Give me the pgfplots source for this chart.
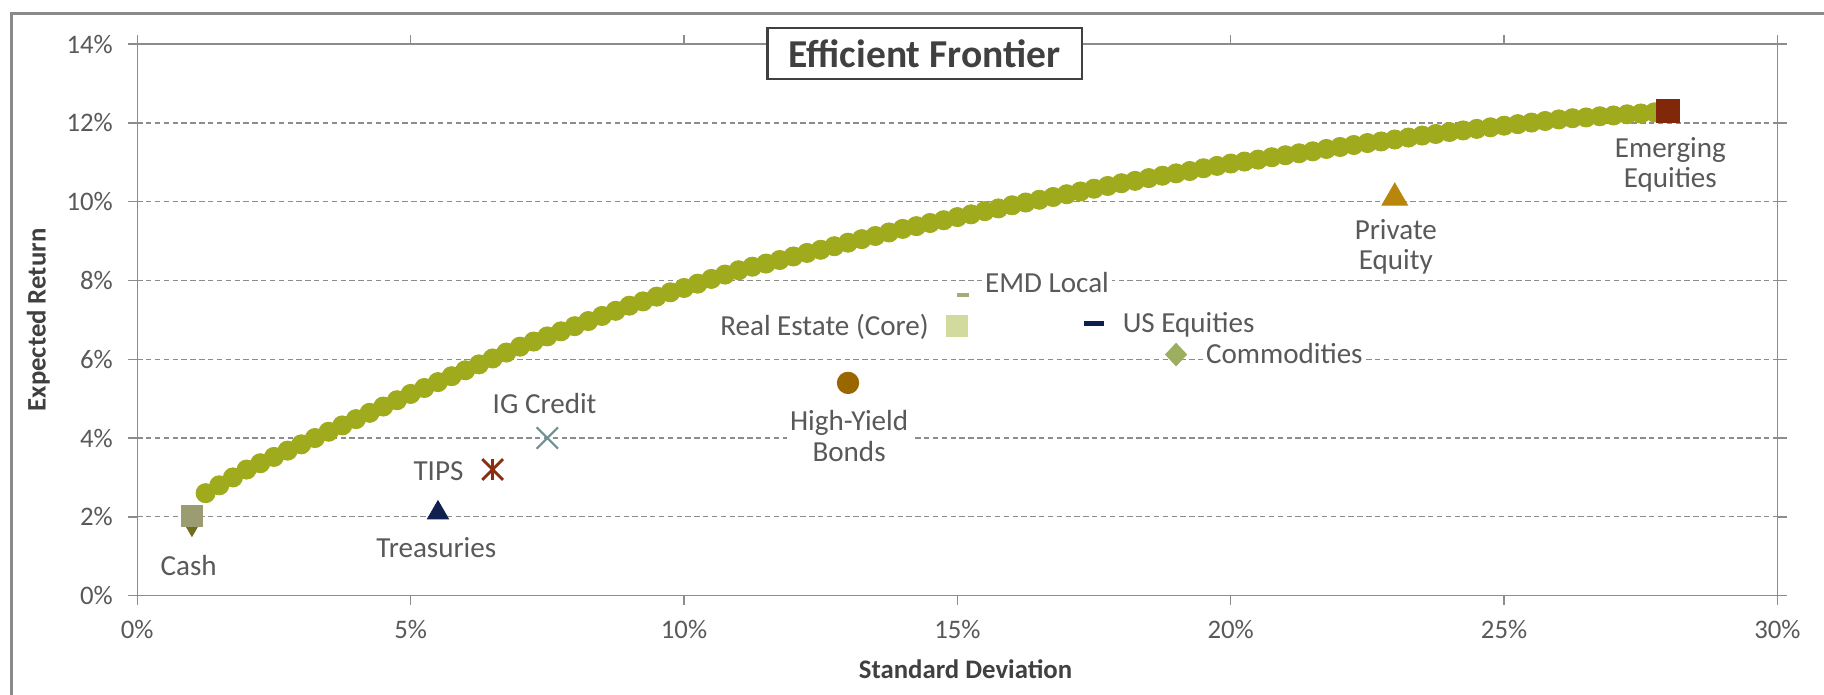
\documentclass[border=0pt]{standalone}
\usepackage{fontspec}
\setmainfont{Carlito}
\usepackage{pgfplots}
\pgfplotsset{compat=1.18}

\definecolor{framegray}{HTML}{8A8A8A}
\definecolor{axisgray}{HTML}{8C8C8C}
\definecolor{gridgray}{HTML}{8C8C8C}
\definecolor{labelgray}{HTML}{595959}
\definecolor{titlegray}{HTML}{404040}
\definecolor{frontier}{HTML}{9FAB1D}
\definecolor{cashsq}{HTML}{9C9C72}
\definecolor{cashtri}{HTML}{6E6E1E}
\definecolor{treas}{HTML}{10204F}
\definecolor{tips}{HTML}{8B2D0F}
\definecolor{igcredit}{HTML}{6F9090}
\definecolor{hyb}{HTML}{996600}
\definecolor{emd}{HTML}{A4AC7A}
\definecolor{realest}{HTML}{D2DA9E}
\definecolor{useq}{HTML}{0D1F4F}
\definecolor{commod}{HTML}{9DAE5E}
\definecolor{pe}{HTML}{B8860B}
\definecolor{emeq}{HTML}{82280A}

\newcommand{\lbl}{\fontsize{12.5}{13}\selectfont}

\begin{document}
\begin{tikzpicture}
\useasboundingbox (-59pt,-42.5pt) rectangle (725pt,256pt);
% outer chart frame
\draw[line width=1.3pt, draw=framegray] (-54pt,-80pt) -- (-54pt,250pt) -- (780pt,250pt);
\begin{axis}[
  at={(0pt,0pt)}, anchor=south west,
  scale only axis, width=705pt, height=237pt,
  xmin=0, xmax=30, ymin=0, ymax=14,
  xtick={0,5,...,30}, ytick={0,2,...,14},
  xticklabels={0\%,5\%,10\%,15\%,20\%,25\%,30\%},
  yticklabels={0\%,2\%,4\%,6\%,8\%,10\%,12\%,14\%},
  tick align=outside, major tick length=4pt,
  tick style={axisgray, line width=0.6pt},
  axis line style={axisgray, line width=0.6pt},
  ymajorgrids,
  grid style={gridgray, line width=0.5pt, dash pattern=on 2.3pt off 1.5pt},
  ticklabel style={font=\fontsize{11.5}{13}\selectfont, text=labelgray},
  xticklabel style={yshift=-3pt},
  yticklabel style={xshift=-3pt},
  clip=false,
]
% efficient frontier
\addplot[only marks, mark=*, mark size=4.1pt, mark options={fill=frontier, draw=frontier}] coordinates {
(1.00,2.00) (1.25,2.60) (1.50,2.80) (1.75,3.00) (2.00,3.20)
(2.25,3.36) (2.50,3.52) (2.75,3.68) (3.00,3.84) (3.25,4.00)
(3.50,4.16) (3.75,4.32) (4.00,4.48) (4.25,4.64) (4.50,4.80)
(4.75,4.96) (5.00,5.12) (5.25,5.27) (5.50,5.42) (5.75,5.57)
(6.00,5.72) (6.25,5.87) (6.50,6.02) (6.75,6.17) (7.00,6.32)
(7.25,6.45) (7.50,6.58) (7.75,6.71) (8.00,6.84) (8.25,6.97)
(8.50,7.10) (8.75,7.23) (9.00,7.36) (9.25,7.47) (9.50,7.59)
(9.75,7.70) (10.00,7.81) (10.25,7.92) (10.50,8.04) (10.75,8.15)
(11.00,8.26) (11.25,8.35) (11.50,8.43) (11.75,8.52) (12.00,8.61)
(12.25,8.70) (12.50,8.78) (12.75,8.87) (13.00,8.96) (13.25,9.05)
(13.50,9.13) (13.75,9.22) (14.00,9.31) (14.25,9.38) (14.50,9.46)
(14.75,9.53) (15.00,9.61) (15.25,9.68) (15.50,9.76) (15.75,9.83)
(16.00,9.91) (16.25,9.98) (16.50,10.05) (16.75,10.12) (17.00,10.19)
(17.25,10.26) (17.50,10.33) (17.75,10.40) (18.00,10.47) (18.25,10.53)
(18.50,10.60) (18.75,10.66) (19.00,10.72) (19.25,10.78) (19.50,10.85)
(19.75,10.91) (20.00,10.97) (20.25,11.02) (20.50,11.07) (20.75,11.13)
(21.00,11.18) (21.25,11.23) (21.50,11.28) (21.75,11.34) (22.00,11.39)
(22.25,11.44) (22.50,11.49) (22.75,11.53) (23.00,11.58) (23.25,11.63)
(23.50,11.68) (23.75,11.72) (24.00,11.77) (24.25,11.81) (24.50,11.85)
(24.75,11.89) (25.00,11.93) (25.25,11.97) (25.50,12.01) (25.75,12.05)
(26.00,12.09) (26.25,12.12) (26.50,12.14) (26.75,12.17) (27.00,12.19)
(27.25,12.22) (27.50,12.24) (27.75,12.27) (28.00,12.29)
};
% asset classes
\addplot[only marks, mark=triangle*, mark size=5pt, mark options={rotate=180, fill=cashtri, draw=cashtri}] coordinates {(1.0,1.8)};
\addplot[only marks, mark=square*, mark size=4.5pt, mark options={fill=cashsq, draw=cashsq}] coordinates {(1.0,2.03)};
\addplot[only marks, mark=triangle*, mark size=5.2pt, mark options={fill=treas, draw=treas}] coordinates {(5.5,2.1)};
\addplot[only marks, mark=x, mark size=6.3pt, mark options={draw=tips, line width=1.2pt}] coordinates {(6.5,3.2)};
\addplot[only marks, mark=|, mark size=4.4pt, mark options={draw=tips, line width=1.2pt}] coordinates {(6.5,3.2)};
\addplot[only marks, mark=x, mark size=6.5pt, mark options={draw=igcredit, line width=0.9pt}] coordinates {(7.5,4.0)};
\addplot[only marks, mark=*, mark size=4.6pt, mark options={fill=hyb, draw=hyb}] coordinates {(13.0,5.4)};
\addplot[only marks, mark=-, mark size=2.6pt, mark options={draw=emd, line width=1.7pt}] coordinates {(15.1,7.62)};
\addplot[only marks, mark=square*, mark size=4.5pt, mark options={fill=realest, draw=realest}] coordinates {(15.0,6.85)};
\addplot[only marks, mark=-, mark size=4.2pt, mark options={draw=useq, line width=2.1pt}] coordinates {(17.5,6.9)};
\addplot[only marks, mark=diamond*, mark size=4.8pt, mark options={xscale=1.25, fill=commod, draw=commod}] coordinates {(19.0,6.12)};
\addplot[only marks, mark=triangle*, mark size=6.3pt, mark options={fill=pe, draw=pe}] coordinates {(23.0,10.1)};
\addplot[only marks, mark=square*, mark size=5pt, mark options={fill=emeq, draw=emeq}] coordinates {(28.0,12.3)};

% data labels
\begin{scope}[every node/.style={font=\lbl, text=labelgray, fill=white, inner sep=1.5pt, align=center}]
\node at (axis cs:0.94,0.77) {Cash};
\node at (axis cs:5.47,1.21) {Treasuries};
\node at (axis cs:5.51,3.16) {TIPS};
\node at (axis cs:7.45,4.87) {IG Credit};
\node at (axis cs:13.02,4.05) {High-Yield\\Bonds};
\node at (axis cs:16.64,7.94) {EMD Local};
\node at (axis cs:12.57,6.82) {Real Estate (Core)};
\node at (axis cs:19.23,6.88) {US Equities};
\node at (axis cs:20.98,6.14) {Commodities};
\node at (axis cs:23.02,8.86) {Private\\Equity};
\node at (axis cs:28.04,10.93) {Emerging\\Equities};
\end{scope}

% chart title
\node[draw=titlegray, line width=0.9pt, fill=white, text=titlegray,
      font=\bfseries\fontsize{17}{20}\selectfont,
      minimum width=135pt, minimum height=22pt, inner sep=0pt]
  at (axis cs:14.40,13.76) {Efficient Frontier};
\end{axis}
% axis titles
\node[font=\bfseries\fontsize{11.5}{13}\selectfont, text=titlegray] at (356pt,-31.5pt) {Standard Deviation};
\node[font=\bfseries\fontsize{11.5}{13}\selectfont, text=titlegray, rotate=90] at (-42.5pt,118.5pt) {Expected Return};
\end{tikzpicture}
\end{document}
